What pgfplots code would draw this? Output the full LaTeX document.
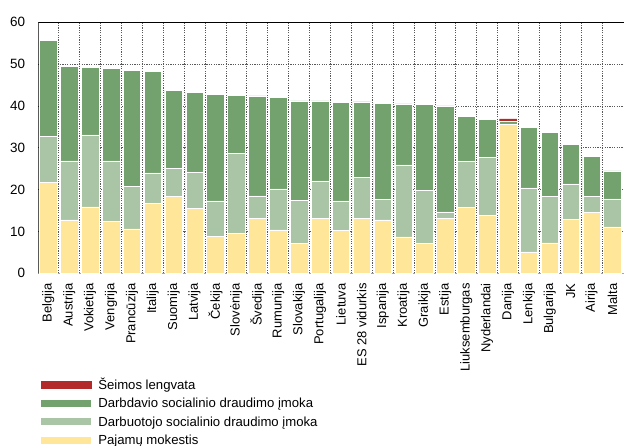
\documentclass[border=0pt]{standalone}
\usepackage{pgfplots}
\pgfplotsset{compat=1.18}
\usepackage{fontspec}
\setmainfont{Liberation Sans}

\definecolor{cRed}{RGB}{178,42,42}
\definecolor{cDark}{RGB}{115,162,110}
\definecolor{cLight}{RGB}{169,197,165}
\definecolor{cYellow}{RGB}{255,230,153}

\begin{document}
\begin{tikzpicture}
\useasboundingbox (0,0) rectangle (624bp,446bp);
\begin{axis}[
    at={(38.3bp,172.7bp)}, anchor=south west,
    scale only axis,
    width=585.7bp, height=251bp,
    ybar stacked,
    bar width=0.84,
    xmin=-0.48, xmax=27.55,
    ymin=0, ymax=60,
    ytick={0,10,...,60},
    xtick=data,
    xticklabels={Belgija,Austrija,Vokietija,Vengrija,Prancūzija,Italija,Suomija,Latvija,Čekija,Slovėnija,Švedija,Rumunija,Slovakija,Portugalija,Lietuva,ES 28 vidurkis,Ispanija,Kroatija,Graikija,Estija,Liuksemburgas,Nyderlandai,Danija,Lenkija,Bulgarija,JK,Airija,Malta},
    minor xtick={0.5,1.5,...,26.5},
    ymajorgrids, xminorgrids,
    grid style={black!65, line width=0.8bp, dash pattern=on 1.2bp off 1.2bp},
    minor grid style={black!65, line width=0.8bp, dash pattern=on 1.2bp off 1.2bp},
    major tick length=0pt, minor tick length=0pt,
    axis line style={draw=none},
    /pgf/number format/assume math mode=true,
    yticklabel style={font=\fontsize{13.5}{14}\selectfont, inner sep=0pt},
    yticklabel shift=13bp,
    xticklabel style={font=\fontsize{13}{14}\selectfont, rotate=90, anchor=east, inner sep=0pt},
    xticklabel shift=10bp,
    legend style={at={(axis description cs:0.003,-0.426)}, anchor=north west,
        draw=none, fill=none, inner sep=0pt, row sep=6.4bp,
        font=\fontsize{13.2}{14}\selectfont,
        nodes={inner sep=0pt, text height=9bp, text depth=3bp}},
    legend cell align=left,
    reverse legend,
    legend image code/.code={\fill[#1] (0bp,-2.5bp) rectangle (51bp,5.5bp); \path (57.5bp,0bp);},
]
\addplot[fill=cYellow, draw=white, line width=0.5bp] coordinates {
(0,21.8) (1,12.8) (2,15.9) (3,12.4) (4,10.6) (5,16.7) (6,18.4) (7,15.6) (8,8.9) (9,9.6)
(10,13.2) (11,10.4) (12,7.2) (13,13.1) (14,10.2) (15,13.2) (16,12.8) (17,8.7) (18,7.1) (19,13.1)
(20,15.7) (21,13.9) (22,35.6) (23,5.1) (24,7.3) (25,12.9) (26,14.5) (27,11.1)};
\addplot[fill=cLight, draw=white, line width=0.5bp] coordinates {
(0,11.0) (1,14.1) (2,17.2) (3,14.5) (4,10.1) (5,7.3) (6,6.6) (7,8.6) (8,8.4) (9,19.1)
(10,5.3) (11,9.8) (12,10.3) (13,9.0) (14,7.1) (15,9.7) (16,4.9) (17,17.2) (18,12.7) (19,1.6)
(20,11.0) (21,13.9) (22,0.1) (23,15.3) (24,11.0) (25,8.5) (26,3.8) (27,6.7)};
\addplot[fill=cDark, draw=white, line width=0.5bp] coordinates {
(0,22.8) (1,22.5) (2,16.2) (3,22.1) (4,27.8) (5,24.2) (6,18.8) (7,19.1) (8,25.4) (9,13.8)
(10,23.9) (11,21.9) (12,23.7) (13,19.1) (14,23.5) (15,17.9) (16,23.0) (17,14.6) (18,20.6) (19,25.3)
(20,10.9) (21,9.0) (22,0.7) (23,14.4) (24,15.3) (25,9.5) (26,9.6) (27,6.7)};
\addplot[fill=cRed, draw=none] coordinates {
(0,0) (1,0) (2,0) (3,0) (4,0) (5,0) (6,0) (7,0) (8,0) (9,0)
(10,0) (11,0) (12,0) (13,0) (14,0) (15,0.2) (16,0) (17,0) (18,0) (19,0)
(20,0) (21,0) (22,0.5) (23,0) (24,0) (25,0) (26,0) (27,0)};
\legend{Pajamų mokestis, Darbuotojo socialinio draudimo įmoka, Darbdavio socialinio draudimo įmoka, Šeimos lengvata}
\draw[black, line width=0.9bp] (rel axis cs:0,0) -- (rel axis cs:0,1) -- (rel axis cs:1,1);
\draw[black!35, line width=0.9bp] (rel axis cs:0,0) -- (rel axis cs:1,0);
\end{axis}
\end{tikzpicture}
\end{document}
